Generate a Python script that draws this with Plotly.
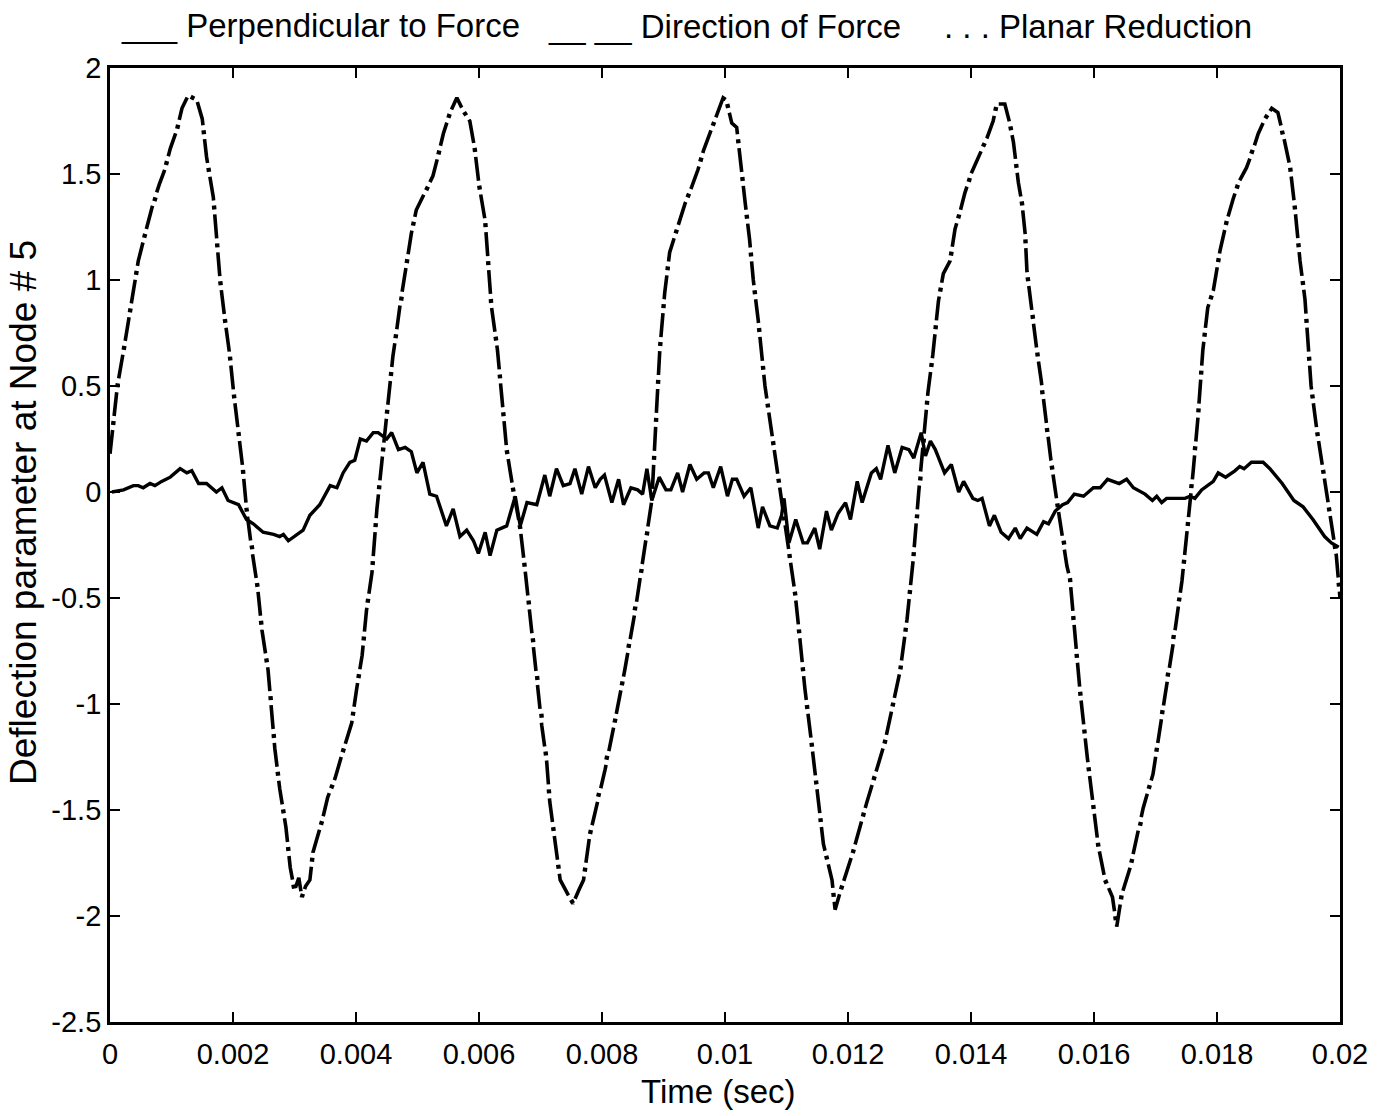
import plotly.graph_objects as go

# Time base in milliseconds (converted to seconds for plotting)
perp_t_ms = [0.03, 0.22, 0.38, 0.46, 0.54, 0.65, 0.73, 0.84, 0.98, 1.14, 1.25, 1.33, 1.44, 1.57,
             1.73, 1.82, 1.92, 2.09, 2.22, 2.33, 2.49, 2.66, 2.76, 2.82, 2.90, 3.04, 3.14, 3.25,
             3.41, 3.58, 3.69, 3.79, 3.90, 3.98, 4.07, 4.17, 4.28, 4.36, 4.50, 4.58, 4.69, 4.80,
             4.90, 4.99, 5.09, 5.20, 5.31, 5.47, 5.58, 5.69, 5.80, 5.91, 5.99, 6.10, 6.18, 6.29,
             6.45, 6.59, 6.67, 6.78, 6.94, 7.07, 7.15, 7.26, 7.37, 7.48, 7.56, 7.67, 7.78, 7.89,
             7.97, 8.04, 8.16, 8.27, 8.35, 8.47, 8.58, 8.66, 8.73, 8.81, 8.93, 9.04, 9.12, 9.23,
             9.31, 9.43, 9.54, 9.66, 9.73, 9.81, 9.93, 10.04, 10.12, 10.19, 10.31, 10.42, 10.54,
             10.61, 10.73, 10.85, 10.92, 10.96, 11.04, 11.15, 11.27, 11.34, 11.46, 11.54, 11.65,
             11.73, 11.84, 11.96, 12.04, 12.15, 12.23, 12.38, 12.46, 12.53, 12.65, 12.76, 12.88,
             12.99, 13.07, 13.19, 13.26, 13.34, 13.42, 13.57, 13.68, 13.80, 13.88, 14.03, 14.11,
             14.18, 14.30, 14.38, 14.49, 14.61, 14.72, 14.80, 14.91, 15.07, 15.18, 15.26, 15.37,
             15.49, 15.57, 15.68, 15.83, 15.99, 16.10, 16.22, 16.41, 16.53, 16.64, 16.83, 16.95,
             17.02, 17.10, 17.18, 17.29, 17.48, 17.56, 17.64, 17.75, 17.94, 18.02, 18.14, 18.29,
             18.37, 18.44, 18.56, 18.75, 18.86, 19.06, 19.25, 19.40, 19.56, 19.75, 19.86, 19.98]
perp_vals = [0.00, 0.01, 0.03, 0.03, 0.02, 0.04, 0.03, 0.05, 0.07, 0.11, 0.09, 0.10, 0.04, 0.04,
             0.00, 0.02, -0.04, -0.06, -0.13, -0.15, -0.19, -0.20, -0.21, -0.20, -0.23, -0.20,
             -0.18, -0.11, -0.06, 0.03, 0.02, 0.09, 0.14, 0.15, 0.25, 0.24, 0.28, 0.28, 0.25,
             0.28, 0.20, 0.21, 0.19, 0.09, 0.14, -0.01, -0.02, -0.16, -0.08, -0.21, -0.18, -0.23,
             -0.29, -0.19, -0.30, -0.18, -0.16, -0.02, -0.16, -0.05, -0.06, 0.08, -0.02, 0.11,
             0.03, 0.04, 0.11, -0.01, 0.12, 0.02, 0.06, 0.08, -0.05, 0.06, -0.06, 0.02, 0.01,
             -0.01, 0.11, -0.04, 0.07, 0.01, 0.01, 0.09, 0.00, 0.13, 0.06, 0.09, 0.09, 0.02,
             0.12, -0.02, 0.06, 0.06, -0.02, 0.02, -0.17, -0.07, -0.16, -0.17, -0.11, -0.03,
             -0.24, -0.13, -0.24, -0.24, -0.17, -0.27, -0.09, -0.18, -0.10, -0.05, -0.13, 0.05,
             -0.05, 0.09, 0.11, 0.06, 0.22, 0.09, 0.21, 0.20, 0.16, 0.28, 0.17, 0.24, 0.20,
             0.09, 0.13, 0.00, 0.05, -0.03, -0.04, -0.03, -0.16, -0.11, -0.19, -0.22, -0.17,
             -0.22, -0.17, -0.20, -0.14, -0.15, -0.09, -0.06, -0.05, -0.01, -0.02, 0.02, 0.02,
             0.06, 0.04, 0.06, 0.02, -0.01, -0.04, -0.02, -0.05, -0.03, -0.03, -0.03, -0.02,
             -0.03, 0.01, 0.05, 0.09, 0.07, 0.10, 0.12, 0.11, 0.14, 0.14, 0.11, 0.04, -0.04,
             -0.07, -0.13, -0.21, -0.24, -0.26]

dir_t_ms = [0.00, 0.12, 0.24, 0.37, 0.46, 0.60, 0.70, 0.80, 0.89, 0.98, 1.09, 1.17, 1.27, 1.35,
            1.41, 1.50, 1.57, 1.68, 1.74, 1.79, 1.87, 1.95, 2.01, 2.08, 2.16, 2.22, 2.30, 2.40,
            2.47, 2.57, 2.63, 2.68, 2.76, 2.86, 2.93, 3.00, 3.07, 3.12, 3.18, 3.25, 3.30, 3.36,
            3.45, 3.54, 3.66, 3.77, 3.93, 4.01, 4.10, 4.17, 4.26, 4.34, 4.42, 4.50, 4.60, 4.66,
            4.72, 4.83, 4.90, 4.98, 5.12, 5.25, 5.33, 5.42, 5.53, 5.64, 5.74, 5.85, 5.93, 6.00,
            6.10, 6.15, 6.20, 6.30, 6.37, 6.45, 6.55, 6.67, 6.75, 6.80, 6.88, 6.94, 7.02, 7.10,
            7.15, 7.24, 7.32, 7.45, 7.53, 7.62, 7.70, 7.80, 7.93, 8.05, 8.21, 8.37, 8.54, 8.67,
            8.81, 8.88, 8.94, 9.02, 9.10, 9.23, 9.35, 9.46, 9.56, 9.65, 9.76, 9.87, 9.97, 10.02,
            10.11, 10.19, 10.24, 10.33, 10.40, 10.46, 10.54, 10.60, 10.65, 10.80, 10.95, 11.07,
            11.14, 11.22, 11.30, 11.41, 11.50, 11.60, 11.74, 11.79, 11.88, 12.08, 12.30, 12.60,
            12.85, 12.96, 13.06, 13.15, 13.30, 13.38, 13.47, 13.55, 13.66, 13.74, 13.82, 13.90,
            14.00, 14.12, 14.26, 14.36, 14.42, 14.55, 14.63, 14.69, 14.72, 14.77, 14.83, 14.88,
            14.91, 14.99, 15.07, 15.14, 15.30, 15.40, 15.56, 15.61, 15.69, 15.77, 15.89, 15.98,
            16.07, 16.18, 16.30, 16.37, 16.45, 16.59, 16.70, 16.80, 16.88, 16.96, 17.15, 17.29,
            17.43, 17.53, 17.61, 17.69, 17.77, 17.85, 17.94, 18.05, 18.16, 18.26, 18.35, 18.48,
            18.57, 18.67, 18.78, 18.89, 18.99, 19.08, 19.19, 19.27, 19.35, 19.43, 19.48, 19.53,
            19.62, 19.75, 19.86, 19.94, 20.00]
dir_vals = [0.18, 0.50, 0.70, 0.94, 1.09, 1.25, 1.36, 1.45, 1.52, 1.62, 1.71, 1.81, 1.87, 1.86,
            1.85, 1.76, 1.58, 1.39, 1.20, 1.00, 0.81, 0.64, 0.47, 0.30, 0.11, -0.08, -0.26, -0.45,
            -0.65, -0.84, -1.03, -1.21, -1.40, -1.58, -1.77, -1.88, -1.82, -1.91, -1.86, -1.83,
            -1.70, -1.64, -1.55, -1.44, -1.35, -1.24, -1.09, -0.93, -0.77, -0.56, -0.38, -0.08,
            0.15, 0.38, 0.64, 0.76, 0.89, 1.09, 1.22, 1.33, 1.41, 1.49, 1.58, 1.69, 1.79, 1.86,
            1.80, 1.75, 1.62, 1.45, 1.28, 1.07, 0.88, 0.67, 0.45, 0.20, 0.02, -0.17, -0.37, -0.50,
            -0.69, -0.88, -1.10, -1.27, -1.46, -1.65, -1.83, -1.90, -1.94, -1.88, -1.83, -1.62,
            -1.45, -1.31, -1.08, -0.84, -0.56, -0.32, -0.04, 0.35, 0.67, 0.94, 1.13, 1.25, 1.36,
            1.44, 1.52, 1.61, 1.70, 1.79, 1.86, 1.85, 1.74, 1.72, 1.58, 1.36, 1.19, 1.00, 0.81,
            0.66, 0.50, 0.20, -0.10, -0.33, -0.48, -0.70, -0.93, -1.19, -1.42, -1.66, -1.83,
            -1.97, -1.88, -1.70, -1.47, -1.18, -0.84, -0.60, -0.32, 0.00, 0.47, 0.65, 0.90, 1.03,
            1.09, 1.24, 1.32, 1.41, 1.50, 1.58, 1.67, 1.75, 1.83, 1.83, 1.74, 1.65, 1.57, 1.46,
            1.36, 1.22, 1.04, 0.85, 0.67, 0.53, 0.15, -0.05, -0.35, -0.41, -0.68, -0.93, -1.25,
            -1.45, -1.67, -1.83, -1.91, -2.05, -1.90, -1.77, -1.63, -1.49, -1.41, -1.33, -0.97,
            -0.71, -0.42, -0.14, 0.09, 0.35, 0.67, 0.87, 0.95, 1.14, 1.28, 1.38, 1.46, 1.53,
            1.60, 1.69, 1.76, 1.81, 1.79, 1.68, 1.53, 1.33, 1.09, 0.91, 0.70, 0.50, 0.30, 0.05,
            -0.15, -0.30, -0.50]

# The planar reduction follows the force-direction response point for point
planar_t_ms = list(dir_t_ms)
planar_vals = list(dir_vals)

x_ticks = [0, 0.002, 0.004, 0.006, 0.008, 0.01, 0.012, 0.014, 0.016, 0.018, 0.02]
x_tick_text = ["0", "0.002", "0.004", "0.006", "0.008", "0.01", "0.012", "0.014", "0.016", "0.018", "0.02"]
y_ticks = [-2.5, -2, -1.5, -1, -0.5, 0, 0.5, 1, 1.5, 2]
y_tick_text = ["-2.5", "-2", "-1.5", "-1", "-0.5", "0", "0.5", "1", "1.5", "2"]

FONT = "Liberation Sans, Arial, Helvetica, sans-serif"

def to_sec(ms_list):
    return [v / 1000.0 for v in ms_list]

fig = go.Figure()
fig.add_trace(go.Scatter(
    x=to_sec(perp_t_ms), y=perp_vals, mode="lines", name="Perpendicular to Force",
    line=dict(color="black", width=3.4), showlegend=False))
fig.add_trace(go.Scatter(
    x=to_sec(dir_t_ms), y=dir_vals, mode="lines", name="Direction of Force",
    line=dict(color="black", width=3.6, dash="24px,14px"), showlegend=False))
fig.add_trace(go.Scatter(
    x=to_sec(planar_t_ms), y=planar_vals, mode="lines", name="Planar Reduction",
    line=dict(color="black", width=4.4, dash="0px,29px,4px,5px"), showlegend=False))

W, H = 1395, 1116
L, R, T, B = 110, 55, 68, 94
pw, ph = W - L - R, H - T - B

def px(xp):
    return (xp - L) / pw

def py(yp):
    return (H - B - yp) / ph

annotations = [
    dict(text="___ Perpendicular to Force", x=px(119), y=py(25), xanchor="left", yanchor="middle", size=33),
    dict(text="__ __ Direction of Force", x=px(546), y=py(27), xanchor="left", yanchor="middle", size=33),
    dict(text=". . . Planar Reduction", x=px(942), y=py(27), xanchor="left", yanchor="middle", size=33),
    dict(text="Time (sec)", x=px(718), y=py(1091), xanchor="center", yanchor="middle", size=33),
    dict(text="Deflection parameter at Node # 5", x=px(23), y=py(513), xanchor="center",
         yanchor="middle", textangle=-90, size=37),
]
for a in annotations:
    size = a.pop("size")
    a.update(xref="paper", yref="paper", showarrow=False,
             font=dict(family=FONT, size=size, color="black"))

axis_common = dict(showline=True, linecolor="black", linewidth=2.8, mirror="ticks",
                   ticks="inside", ticklen=10, tickwidth=2, tickcolor="black",
                   showgrid=False, zeroline=False,
                   tickfont=dict(family=FONT, size=29, color="black"))

fig.update_layout(
    width=W, height=H,
    margin=dict(l=L, r=R, t=T, b=B),
    paper_bgcolor="white", plot_bgcolor="white",
    annotations=annotations,
    xaxis=dict(range=[0, 0.02], tickvals=x_ticks, ticktext=x_tick_text,
               ticklabelstandoff=4, **axis_common),
    yaxis=dict(range=[-2.5, 2], tickvals=y_ticks, ticktext=y_tick_text, **axis_common),
)

fig.write_html("out.html")
